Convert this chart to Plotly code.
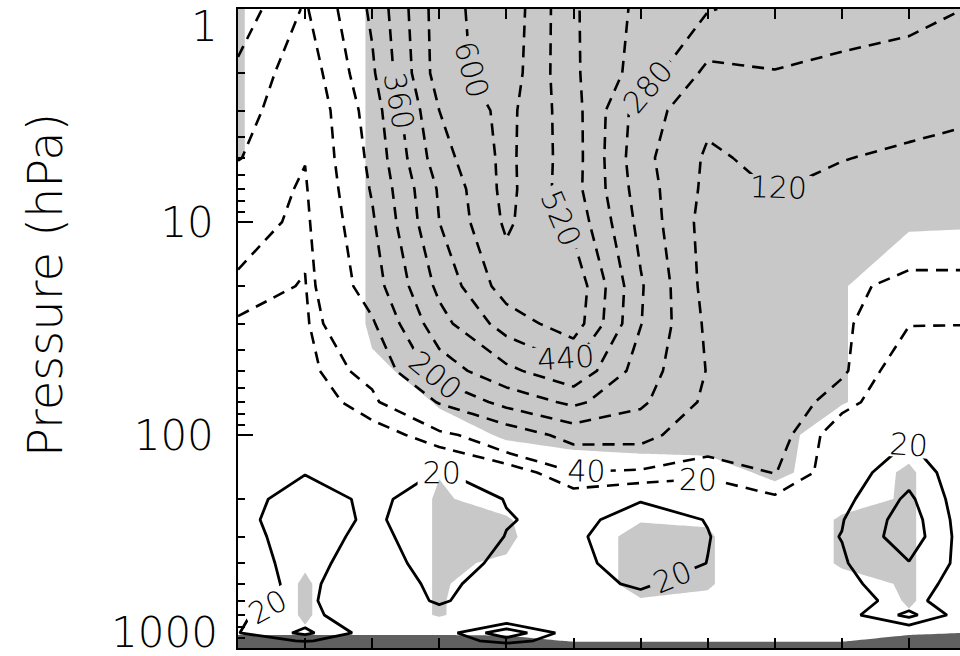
import plotly.graph_objects as go

# ---------------- data ----------------
lat = [0, 10, 20, 30, 40, 50, 60, 70, 80, 90, 100, 110]
pres = [1, 2, 3, 5, 7, 10, 20, 30, 50, 70, 100, 150, 200, 250, 300, 400, 500, 600, 700, 850, 925, 1000]

# upper (dashed) field, rows follow pres
upper = [
    [250, 111, 295, 563, 658, 450, 340, 285, 250, 240, 222, 195],
    [183, 68, 267, 560, 647, 453, 325, 180, 197, 180, 170, 160],
    [160, 48, 238, 520, 625, 471, 240, 140, 170, 150, 140, 128],
    [125, 42, 220, 488, 622, 475, 225, 108, 140, 122, 110, 100],
    [70, 34, 207, 450, 625, 470, 240, 100, 122, 105, 90, 85],
    [63, 28, 190, 440, 614, 497, 255, 85, 108, 85, 55, 55],
    [32, 18, 160, 380, 560, 580, 289, 90, 85, 44, 35, 35],
    [17, 14, 110, 331, 476, 565, 283, 104, 75, 44, 21, 20.5],
    [12, 10, 55, 236, 340, 423, 242, 116, 65, 44, 2, 2],
    [10, 8, 30, 125, 227, 298, 214, 103, 58, 28, 0, 0],
    [8, 6, 12, 28, 70, 148, 149, 60, 52, 5, 0, 0],
    [6, 5, 6, 3, 5, 38, 31, 25, 41, 5, 0, 0],
    [5, 5, 5, 2, 3, 8, 3, 3, 16, 3, 0, 0],
    [3, 3, 3, 2, 3, 3, 3, 3, 3, 3, 0, 0],
    [3, 3, 3, 2, 3, 3, 3, 3, 3, 3, 0, 0],
    [3, 3, 3, 2, 3, 3, 3, 3, 3, 3, 0, 0],
    [3, 3, 3, 2, 3, 3, 3, 3, 3, 3, 0, 0],
    [3, 3, 3, 2, 3, 3, 3, 3, 3, 3, 0, 0],
    [3, 3, 3, 2, 3, 3, 3, 3, 3, 3, 0, 0],
    [3, 3, 3, 2, 3, 3, 3, 3, 3, 3, 0, 0],
    [3, 3, 3, 2, 3, 3, 3, 3, 3, 3, 0, 0],
    [3, 3, 3, 2, 3, 3, 3, 3, 3, 3, 0, 0],
]

# lower (solid) field
lower = [
    [0, 0, 0, 0, 0, 0, 0, 0, 0, 0, 0, 0],
    [0, 0, 0, 0, 0, 0, 0, 0, 0, 0, 0, 0],
    [0, 0, 0, 0, 0, 0, 0, 0, 0, 0, 0, 0],
    [0, 0, 0, 0, 0, 0, 0, 0, 0, 0, 0, 0],
    [0, 0, 0, 0, 0, 0, 0, 0, 0, 0, 0, 0],
    [0, 0, 0, 0, 0, 0, 0, 0, 0, 0, 0, 0],
    [0, 0, 0, 0, 0, 0, 0, 0, 0, 0, 0, 0],
    [0, 0, 0, 0, 0, 0, 0, 0, 0, 0, 0, 0],
    [0, 0, 0, 0, 0, 0, 0, 0, 0, 0, 0, 0],
    [0, 0, 0, 0, 0, 0, 0, 0, 0, 0, 0, 0],
    [2, 8, 3, 10, 5, 5, 5, 3, 3, 5, 18, 3],
    [5, 19, 8, 21, 12, 10, 12, 8, 5, 10, 32, 3],
    [11.8, 30, 15.5, 30, 19.4, 14, 19, 14, 8, 14, 44, 0],
    [14.6, 31, 16.5, 33, 20.8, 16, 26, 19.5, 10, 19, 50, 1],
    [12.5, 30, 13.5, 33, 19.5, 17.3, 30, 20.5, 10, 20.5, 52, 2],
    [11.4, 27, 9, 30, 15, 15.6, 28, 19.8, 10, 18, 39, 8],
    [11.5, 25, 4, 26, 8.4, 10.7, 24, 6.6, 8, 15.5, 30, 7],
    [12, 24, 3, 23, 5, 6, 12, 3, 5, 13, 26, 4],
    [18.2, 28, 0, 12, -10, 2, 5, 2, 3, 10, 46, 0],
    [19.3, 45, 9.3, 7, 55, 7, 3, 2, 2, 0, 0, 0],
    [8, 22, 6, 5, 30, 5, 2, 2, 2, 0, 0, 0],
    [0, 0, 0, 0, 0, 0, 0, 0, 0, 0, 0, 0],
]

# shading indicator (shaded where > 0.5)
signif = [
    [0.556, 0, 0.556, 1, 1, 1, 1, 1, 1, 1, 1, 1],
    [0.556, 0, 0.556, 1, 1, 1, 1, 1, 1, 1, 1, 1],
    [0.556, 0, 0.556, 1, 1, 1, 1, 1, 1, 1, 1, 1],
    [0.556, 0, 0.556, 1, 1, 1, 1, 1, 1, 1, 1, 1],
    [0, 0, 0.556, 1, 1, 1, 1, 1, 1, 1, 1, 1],
    [0, 0, 0.556, 1, 1, 1, 1, 1, 1, 1, 0.59, 0.56],
    [0, 0, 0.556, 1, 1, 1, 1, 1, 1, 0.55, 0, 0],
    [0, 0, 0.556, 1, 1, 1, 1, 1, 1, 0.55, 0, 0],
    [0, 0, 0.45, 0.6, 1, 1, 1, 1, 1, 0.55, 0, 0],
    [0, 0, 0.07, 0.55, 1, 1, 1, 1, 1, 0.55, 0, 0],
    [0, 0, 0, 0.3, 0.55, 0.7, 0.7, 0.75, 0.8, 0, 0.3, 0],
    [0, 0, 0, 0.48, 0.2, 0.2, 0.3, 0.3, 0.6, 0.25, 0.56, 0],
    [0, 0, 0, 0.56, 0.3, 0, 0, 0, 0.3, 0.3, 0.56, 0],
    [0, 0, 0, 0.56, 0.55, 0, 0.45, 0.45, 0, 0.57, 0.56, 0],
    [0, 0, 0, 0.56, 0.6, 0, 0.75, 0.56, 0, 0.57, 0.56, 0],
    [0, 0.45, 0, 0.56, 0.45, 0, 0.75, 0.56, 0, 0.57, 0.56, 0],
    [0, 0.56, 0, 0.56, 0.2, 0, 0.75, 0.56, 0, 0.3, 0.56, 0],
    [0, 0.56, 0, 0.56, 0, 0, 0.45, 0.4, 0, 0, 0.56, 0],
    [0, 0.56, 0, 0.56, 0, 0, 0, 0, 0, 0, 0.45, 0],
    [0, 0.45, 0, 0, 0, 0, 0, 0, 0, 0, 0, 0],
    [0, 0, 0, 0, 0, 0, 0, 0, 0, 0, 0, 0],
    [0, 0, 0, 0, 0, 0, 0, 0, 0, 0, 0, 0],
]

# surface pressure (hPa) per column
surface = [870, 870, 870, 870, 875, 935, 935, 935, 935, 935, 870, 845]

ytick_vals = [1, 10, 100, 1000]
ytick_text = ['1', '10', '100', '1000']
minor_vals = [m * d for d in (1, 10, 100) for m in range(2, 10)]

FONT = "DejaVu Sans"
WEIGHT = 200
LABEL_SIZE = 30

below_ground = [[p - s for s in surface] for p in pres]

fig = go.Figure()

# shading
fig.add_trace(go.Contour(
    x=lat, y=pres, z=signif,
    contours=dict(coloring="fill", start=0.5, end=0.5, size=1, showlines=False),
    colorscale=[[0, "rgba(255,255,255,0)"], [0.5, "rgba(255,255,255,0)"],
                [0.5, "#c8c8c8"], [1, "#c8c8c8"]],
    line=dict(width=0, smoothing=0), showscale=False, hoverinfo="skip",
))

# ground
fig.add_trace(go.Contour(
    x=lat, y=pres, z=below_ground,
    contours=dict(coloring="fill", start=0, end=0, size=1, showlines=False),
    colorscale=[[0, "rgba(255,255,255,0)"], [0.5, "rgba(255,255,255,0)"],
                [0.5, "#606060"], [1, "#606060"]],
    line=dict(width=0, smoothing=0), showscale=False, hoverinfo="skip",
))

dash_style = dict(color="black", width=2.6, dash="12px,8px", smoothing=0)
label_font = dict(family=FONT, size=LABEL_SIZE, color="black", weight=WEIGHT)

# dashed upper field: 20 and 40..600 by 80
fig.add_trace(go.Contour(
    x=lat, y=pres, z=upper,
    contours=dict(coloring="none", start=20, end=20, size=20,
                  showlabels=True, labelfont=label_font),
    line=dict(**dash_style), showscale=False, hoverinfo="skip",
))
fig.add_trace(go.Contour(
    x=lat, y=pres, z=upper,
    contours=dict(coloring="none", start=40, end=600, size=80,
                  showlabels=True, labelfont=label_font),
    line=dict(**dash_style), showscale=False, hoverinfo="skip",
))

# solid lower field
fig.add_trace(go.Contour(
    x=lat, y=pres, z=lower,
    contours=dict(coloring="none", start=20, end=60, size=20,
                  showlabels=True, labelfont=label_font),
    line=dict(color="black", width=2.8, smoothing=0), showscale=False, hoverinfo="skip",
))

fig.update_layout(
    width=960, height=656,
    margin=dict(l=238, r=0, t=9, b=8),
    paper_bgcolor="white", plot_bgcolor="white",
    showlegend=False,
    font=dict(family=FONT, size=42, color="black", weight=WEIGHT),
)

fig.update_xaxes(
    range=[0, 107.6], tick0=0, dtick=10, ticks="inside", ticklen=10, tickwidth=1.5,
    tickcolor="black", showline=True, linecolor="black", linewidth=1.5,
    mirror="allticks", showticklabels=False, showgrid=False, zeroline=False,
)
fig.update_yaxes(
    type="log", range=[3, 0], tickvals=ytick_vals,
    ticktext=["", ytick_text[1], ytick_text[2], ""],
    ticks="inside", ticklen=15, tickwidth=1.5, tickcolor="black",
    minor=dict(tickvals=minor_vals, ticks="inside", ticklen=7, tickwidth=1.5,
               tickcolor="black", showgrid=False),
    showline=True, linecolor="black", linewidth=1.5, mirror=False,
    showgrid=False, zeroline=False, ticklabelstandoff=14,
    tickfont=dict(family=FONT, size=42, color="black", weight=WEIGHT),
)

# end tick labels (shifted inward like the original) and axis title
fig.add_annotation(x=-0.025, y=(648 - 26) / 639, xref="paper", yref="paper",
                   text=ytick_text[0], showarrow=False, xanchor="right", yanchor="middle",
                   font=dict(family=FONT, size=42, color="black", weight=WEIGHT))
fig.add_annotation(x=-0.025, y=(648 - 632) / 639, xref="paper", yref="paper",
                   text=ytick_text[3], showarrow=False, xanchor="right", yanchor="middle",
                   font=dict(family=FONT, size=42, color="black", weight=WEIGHT))
fig.add_annotation(x=(45 - 238) / 722, y=(648 - 285) / 639, xref="paper", yref="paper",
                   text="Pressure (hPa)", textangle=-90, showarrow=False,
                   xanchor="center", yanchor="middle",
                   font=dict(family=FONT, size=48, color="black", weight=WEIGHT))

fig.write_html("out.html", config={"displayModeBar": False},
               post_script="document.body.style.margin='0';document.body.style.overflow='hidden';")
